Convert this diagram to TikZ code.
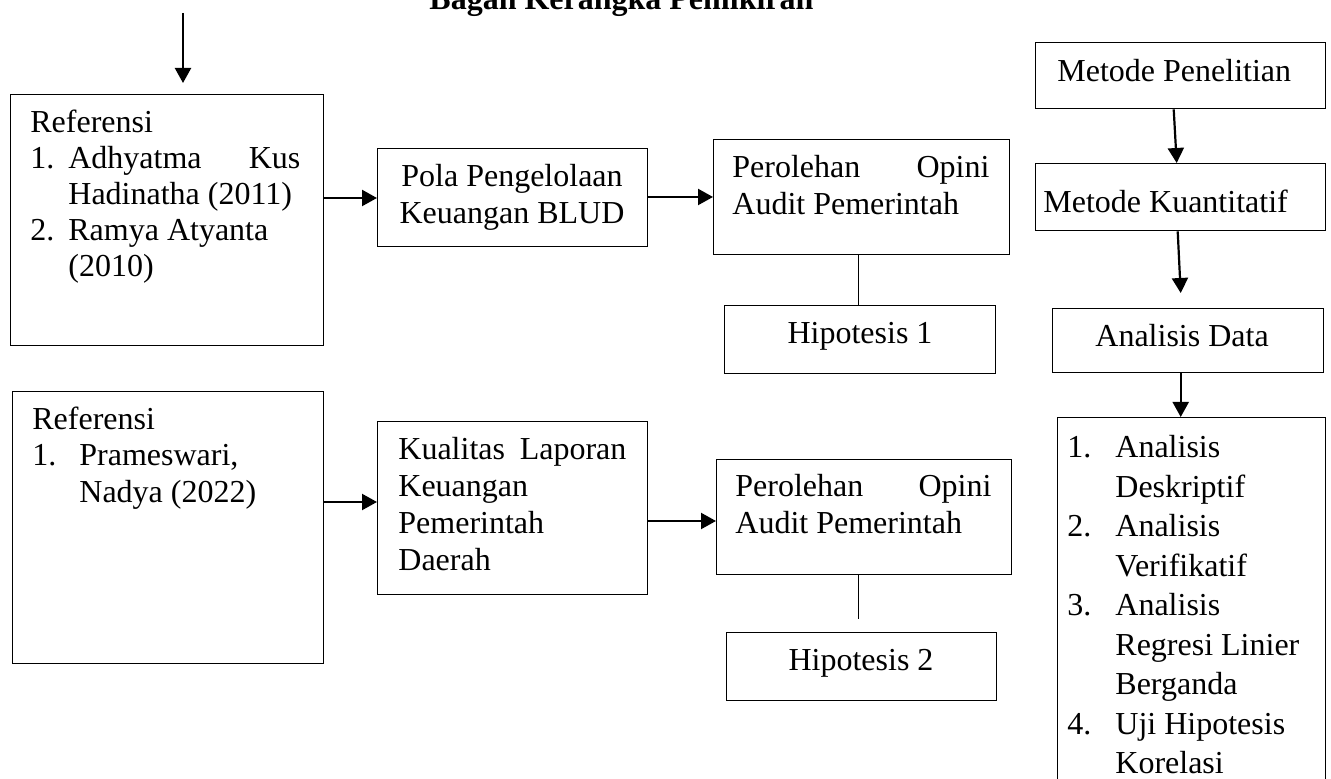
\documentclass[tikz,border=0pt]{standalone}
\usepackage{fontspec}
\setmainfont{Liberation Serif}
\usetikzlibrary{arrows.meta,calc}
\newcommand\tfa{\fontsize{16pt}{18pt}\selectfont}
\newcommand\tfb{\fontsize{16pt}{18.4pt}\selectfont}
\newcommand\tfc{\fontsize{16pt}{19.75pt}\selectfont}
\tikzset{
  bx/.style={draw, line width=0.7pt, anchor=north west, inner sep=0pt},
  txt/.style={anchor=base west, inner sep=0pt, font=\tfa},
  arr/.style={-{Triangle[length=7.5pt,width=8pt]}, line width=1.1pt},
  thin line/.style={line width=0.6pt}
}
\begin{document}
\begin{tikzpicture}[x=0.5pt,y=-0.5pt]
\useasboundingbox (0,0) rectangle (1331,779);
\clip (0,0) rectangle (1331,779);
\fill[white] (0,0) rectangle (1331,779);

% title (cut at the top)
\node[txt] (title) at (429,10) {\bfseries Bagan Kerangka Pemikiran};

% boxes
\node[bx, minimum width=156.5pt, minimum height=125.5pt] (ref1) at (10,94) {};
\node[bx, minimum width=155.5pt, minimum height=136pt] (ref2) at (12,391) {};
\node[bx, minimum width=135pt, minimum height=49pt] (pola) at (377,148) {};
\node[bx, minimum width=135pt, minimum height=86.5pt] (kual) at (377,421) {};
\node[bx, minimum width=148pt, minimum height=57.5pt] (per1) at (713,139) {};
\node[bx, minimum width=147.5pt, minimum height=57.5pt] (per2) at (716,459) {};
\node[bx, minimum width=135.5pt, minimum height=34pt] (hip1) at (724,305) {};
\node[bx, minimum width=135pt, minimum height=34pt] (hip2) at (726,632) {};
\node[bx, minimum width=145pt, minimum height=33pt] (mp) at (1035,42) {};
\node[bx, minimum width=145pt, minimum height=33.5pt] (mk) at (1035,163) {};
\node[bx, minimum width=135.5pt, minimum height=32pt] (ad) at (1052,308) {};
\node[bx, minimum width=134pt, minimum height=200pt] (list) at (1057,417) {};

% texts
\node[txt] (tref1) at (30,133) {\parbox[t]{135pt}{\tfa Referensi\\
  \makebox[19pt][l]{1.}Adhyatma\hfill Kus\\
  \hspace*{19pt}Hadinatha (2011)\\
  \makebox[19pt][l]{2.}Ramya Atyanta\\
  \hspace*{19pt}(2010)}};
\node[txt] (tref2) at (32,430) {\parbox[t]{135pt}{\tfa Referensi\\
  \makebox[23.5pt][l]{1.}Prameswari,\\
  \hspace*{23.5pt}Nadya (2022)}};
\node[txt, anchor=base] (tpola) at (512,187) {\parbox[t]{135pt}{\centering\tfb Pola Pengelolaan\\ Keuangan BLUD}};
\node[txt] (tkual) at (398,460) {\parbox[t]{114pt}{\tfb Kualitas\hfill Laporan\\ Keuangan\\ Pemerintah\\ Daerah}};
\node[txt] (tper1) at (732,178) {\parbox[t]{128.5pt}{\tfb Perolehan\hfill Opini\\ Audit Pemerintah}};
\node[txt] (tper2) at (735,497) {\parbox[t]{128pt}{\tfb Perolehan\hfill Opini\\ Audit Pemerintah}};
\node[txt, anchor=base] (thip1) at (860,344) {Hipotesis 1};
\node[txt, anchor=base] (thip2) at (861,670) {Hipotesis 2};
\node[txt] (tmp) at (1057,82) {Metode Penelitian};
\node[txt] (tmk) at (1043,213) {Metode Kuantitatif};
\node[txt] (tad) at (1095,347) {Analisis Data};
\node[txt] (tlist) at (1067,458) {\parbox[t]{130pt}{\tfc
  \makebox[24pt][l]{1.}Analisis\\
  \hspace*{24pt}Deskriptif\\
  \makebox[24pt][l]{2.}Analisis\\
  \hspace*{24pt}Verifikatif\\
  \makebox[24pt][l]{3.}Analisis\\
  \hspace*{24pt}Regresi Linier\\
  \hspace*{24pt}Berganda\\
  \makebox[24pt][l]{4.}Uji Hipotesis\\
  \hspace*{24pt}Korelasi}};

% connectors
\coordinate (topstart) at (183,13);
\draw[arr] (topstart) -- ($(ref1.north west)+(173,-11)$);
\draw[arr] ($(ref1.north east)+(0,104)$) -- ($(pola.north west)+(0,50)$);
\draw[arr] ($(pola.north east)+(0,49)$) -- ($(per1.north west)+(0,58)$);
\draw[arr] ($(ref2.north east)+(0,111)$) -- ($(kual.north west)+(0,81)$);
\draw[arr] ($(kual.north east)+(0,100)$) -- ($(per2.north west)+(0,62)$);
\draw[thin line] ($(per1.south)+(-3,0)$) -- ($(hip1.north)+(-1.5,0)$);
\draw[thin line] ($(per2.south)+(-5.5,0)$) -- ($(hip2.north)+(-3,-13)$);
\draw[arr] ($(mp.south)+(-7,0)$) -- ($(mk.north)+(-4,0)$);
\draw[arr] ($(mk.south)+(-3,0)$) -- ($(ad.north)+(-7.5,-15)$);
\draw[arr] ($(ad.south)+(-7.5,0)$) -- ($(list.north)+(-11,0)$);
\end{tikzpicture}
\end{document}
